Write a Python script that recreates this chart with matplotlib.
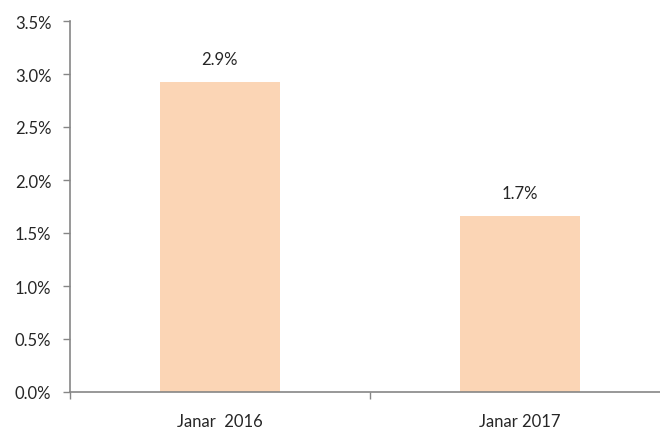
import matplotlib
matplotlib.use("Agg")
import matplotlib.pyplot as plt
import numpy as np

categories = ["Janar  2016", "Janar 2017"]
values = [2.92, 1.66]
labels = ["2.9%", "1.7%"]
yticks = [0.0, 0.5, 1.0, 1.5, 2.0, 2.5, 3.0, 3.5]

plt.rcParams['font.family'] = ['Lato', 'DejaVu Sans']
W, H = 660, 435
fig = plt.figure(figsize=(W/100, H/100), dpi=100)
ax = fig.add_axes([69.5/W, 42/H, 600/W, 371/H])

FS = 12
x = np.arange(len(categories))
ax.bar(x, values, width=0.4, color="#FBD5B5", zorder=2)
for xi, v, lab in zip(x, values, labels):
    ax.annotate(lab, (xi, v), xytext=(0, 11), textcoords="offset points",
                ha="center", va="bottom", fontsize=FS, color="#262626")

ax.set_xlim(-0.5, 1.5)
ax.set_ylim(0, 3.5)
ax.set_yticks(yticks)
ax.set_yticklabels([f"{t:.1f}%" for t in yticks], fontsize=FS, color="#262626")
ax.set_xticks([-0.5, 0.5, 1.5])
ax.set_xticklabels([])
ax.set_xticks(x, minor=True)
ax.set_xticklabels(categories, minor=True, fontsize=FS, color="#262626")
ax.tick_params(axis="x", which="minor", length=0, pad=15)
ax.tick_params(axis="x", which="major", length=5, color="#868686", width=1)
ax.tick_params(axis="y", length=5, color="#868686", width=1, pad=8)

for s in ["top", "right"]:
    ax.spines[s].set_visible(False)
for s in ["left", "bottom"]:
    ax.spines[s].set_color("#868686")
    ax.spines[s].set_linewidth(1.2)

fig.savefig("out.png", dpi=100, facecolor="white")
